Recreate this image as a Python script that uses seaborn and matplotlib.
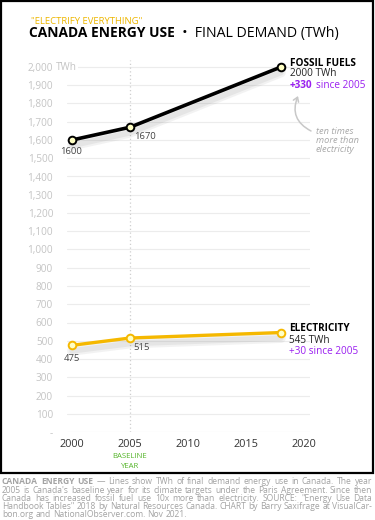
import matplotlib
matplotlib.use("Agg")
import matplotlib.pyplot as plt
import matplotlib.patheffects as pe
from matplotlib.patches import Rectangle, FancyArrowPatch
import seaborn as sns
import pandas as pd

# ---------------- data ----------------
years_fossil = [2000, 2005, 2018]
fossil_twh = [1600, 1670, 2000]
years_elec = [2000, 2005, 2018]
elec_twh = [475, 515, 545]
y_ticks = list(range(0, 2001, 100))
x_ticks = [2000, 2005, 2010, 2015, 2020]

title_small = '"ELECTRIFY EVERYTHING"'
title_bold = "CANADA ENERGY USE"
title_rest = "  \u2022  FINAL DEMAND (TWh)"
note_lines = ["ten times", "more than", "electricity"]
caption_lines = [
    "CANADA ENERGY USE \u2014 Lines show TWh of final demand energy use in Canada. The year",
    "2005 is Canada's baseline year for its climate targets under the Paris Agreement. Since then",
    "Canada has increased fossil fuel use 10x more than electricity.  SOURCE: \"Energy Use Data",
    "Handbook Tables\" 2018 by Natural Resources Canada. CHART by Barry Saxifrage at VisualCar-",
    "bon.org and NationalObserver.com. Nov 2021.",
]

# ---------------- style ----------------
sns.set_theme(style="white")
plt.rcParams["font.family"] = ["Open Sans", "DejaVu Sans"]

W, H = 375, 520
fig = plt.figure(figsize=(W / 100, H / 100), dpi=100)
fig.patch.set_facecolor("white")


def fx(px):
    return px / W


def fy(py):
    return 1 - py / H


ax_left, ax_right, ax_bottom, ax_top = 67, 310, 432, 59.7
ax = fig.add_axes([fx(ax_left), fy(ax_bottom), (ax_right - ax_left) / W, (ax_bottom - ax_top) / H])
ax.set_facecolor("white")

GOLD = "#F5B800"
PURPLE = "#9A1FF0"
MFACE = "#FFFFC4"

df_f = pd.DataFrame({"year": years_fossil, "twh": fossil_twh})
df_e = pd.DataFrame({"year": years_elec, "twh": elec_twh})

sns.lineplot(data=df_f, x="year", y="twh", ax=ax, color="black", linewidth=2.6,
             marker="o", markersize=5.5, markerfacecolor=MFACE, markeredgecolor="black",
             markeredgewidth=1.4, zorder=5)
sns.lineplot(data=df_e, x="year", y="twh", ax=ax, color=GOLD, linewidth=2.4,
             marker="o", markersize=5.5, markerfacecolor=MFACE, markeredgecolor=GOLD,
             markeredgewidth=1.4, zorder=5)
# soft drop shadows under the lines (copies of the seaborn lines, no markers)
for ln in list(ax.lines):
    sh, = ax.plot(ln.get_xdata(), ln.get_ydata(), color="none", linewidth=2.5, zorder=4)
    sh.set_path_effects([
        pe.SimpleLineShadow(offset=(0, -4), shadow_color="#888888", alpha=0.10, linewidth=7),
        pe.SimpleLineShadow(offset=(0, -4), shadow_color="#888888", alpha=0.12, linewidth=4),
    ])

ax.set_xlim(1999.57, 2020.5)
ax.set_ylim(0, 2040)
ax.set_xlabel("")
ax.set_ylabel("")
for s in ax.spines.values():
    s.set_visible(False)

ax.set_yticks(y_ticks)
ax.set_yticklabels(["-" if v == 0 else f"{v:,}" for v in y_ticks])
ax.set_xticks(x_ticks)
ax.set_xticklabels([str(v) for v in x_ticks])
ax.tick_params(axis="y", length=0, pad=10, labelsize=7.2, labelcolor="#c4c4c4")
ax.tick_params(axis="x", length=0, pad=5, labelsize=7.8, labelcolor="#333333")
ax.grid(axis="y", color="#ececec", linewidth=0.8)
ax.grid(axis="x", visible=False)
ax.set_axisbelow(True)

ax.axvline(2005, color="#cfcfcf", linestyle=(0, (1, 2)), linewidth=0.9, zorder=1)

# "TWh" after top tick label
ax.text(1998.62, 2000, "TWh", ha="left", va="center", fontsize=7.2, color="#c4c4c4",
        clip_on=False, zorder=3,
        bbox=dict(boxstyle="square,pad=0.15", fc="white", ec="none"))

# data labels
lab_kw = dict(textcoords="offset pixels", fontsize=6.8, color="#444444", va="center")
ax.annotate("1600", (years_fossil[0], fossil_twh[0]), xytext=(-1, -12), ha="center", **lab_kw)
ax.annotate("1670", (years_fossil[1], fossil_twh[1]), xytext=(4, -9), ha="left", **lab_kw)
ax.annotate("475", (years_elec[0], elec_twh[0]), xytext=(0, -13), ha="center", **lab_kw)
ax.annotate("515", (years_elec[1], elec_twh[1]), xytext=(3, -9), ha="left", **lab_kw)

# series end labels
end_kw = dict(textcoords="offset pixels", ha="left", va="center", fontsize=7.2)
ax.annotate("FOSSIL FUELS", (years_fossil[-1], fossil_twh[-1]), xytext=(9, 4),
            fontweight="bold", color="black", **end_kw)
ax.annotate(f"{fossil_twh[-1]} TWh", (years_fossil[-1], fossil_twh[-1]), xytext=(9, -7),
            color="#222222", **end_kw)
t330 = ax.annotate(f"+{fossil_twh[-1] - fossil_twh[1]}", (years_fossil[-1], fossil_twh[-1]),
                   xytext=(9, -18), fontweight="bold", color=PURPLE, **end_kw)
ax.annotate("ELECTRICITY", (years_elec[-1], elec_twh[-1]), xytext=(8, 4),
            fontweight="bold", color="black", **end_kw)
ax.annotate(f"{elec_twh[-1]} TWh", (years_elec[-1], elec_twh[-1]), xytext=(8, -8),
            color="#222222", **end_kw)
ax.annotate(f"+{elec_twh[-1] - elec_twh[1]} since 2005", (years_elec[-1], elec_twh[-1]),
            xytext=(8, -19), color=PURPLE, **end_kw)

# titles
fig.text(fx(31), fy(21), title_small, fontsize=6.8, color="#EDB600", ha="left", va="center")
tb = fig.text(fx(29), fy(33), title_bold, fontsize=9.9, fontweight="bold", color="black",
              ha="left", va="center")

# note + arrow
fig.text(fx(316), fy(127), "\n".join(note_lines), fontsize=6.7, style="italic",
         color="#a8a8a8", ha="left", va="top", linespacing=0.98)
arrow = FancyArrowPatch((fx(311), fy(131)), (fx(298), fy(96)), transform=fig.transFigure,
                        connectionstyle="arc3,rad=-0.45", arrowstyle="->,head_length=3,head_width=2",
                        color="#c8c8c8", linewidth=1.1, shrinkA=0, shrinkB=0)
fig.add_artist(arrow)

# baseline year
fig.text(fx(130), fy(456), "BASELINE", fontsize=5.6, color="#55B52A", ha="center", va="center")
fig.text(fx(130), fy(466), "YEAR", fontsize=5.6, color="#55B52A", ha="center", va="center")

# border
fig.add_artist(Rectangle((fx(1), fy(473)), 372 / W, 472 / H, transform=fig.transFigure,
                         fill=False, edgecolor="black", linewidth=1.6))

# positioning dependent on text extents
fig.canvas.draw()
r = fig.canvas.get_renderer()
bb = tb.get_window_extent(r)
fig.text(bb.x1 / W, fy(33), title_rest, fontsize=10.2, color="black", ha="left", va="center")
bb = t330.get_window_extent(r)
fig.text((bb.x1 + 3) / W, (bb.y0 + bb.y1) / 2 / H, "since 2005", fontsize=7.2, color=PURPLE,
         ha="left", va="center")

# justified caption; font size chosen so the longest line just fits
x0, x1 = 2, 372
probe = fig.text(0, 0, caption_lines[1], fontsize=10)
w10 = probe.get_window_extent(r).width
probe.remove()
cap_fs = 10 * (x1 - x0) * 0.985 / w10
cap_col = "#a3a3a3"
for li, line in enumerate(caption_lines):
    yy = fy(482 + li * 8.1)
    words = [w for w in line.split(" ") if w != ""]
    items = []
    for wi, w in enumerate(words):
        bold = (li == 0 and wi < 3)
        t = fig.text(0, yy, w, fontsize=cap_fs, color=cap_col, ha="left", va="center",
                     fontweight="bold" if bold else "normal")
        items.append(t)
    widths = [t.get_window_extent(r).width for t in items]
    if li < len(caption_lines) - 1:
        gap = (x1 - x0 - sum(widths)) / (len(items) - 1)
    else:
        sp = fig.text(0, 0, "a a", fontsize=cap_fs)
        sp2 = fig.text(0, 0, "aa", fontsize=cap_fs)
        gap = sp.get_window_extent(r).width - sp2.get_window_extent(r).width
        sp.remove()
        sp2.remove()
    xx = x0
    for t, w in zip(items, widths):
        t.set_x(xx / W)
        xx += w + gap

fig.savefig("out.png", dpi=100, facecolor="white")
